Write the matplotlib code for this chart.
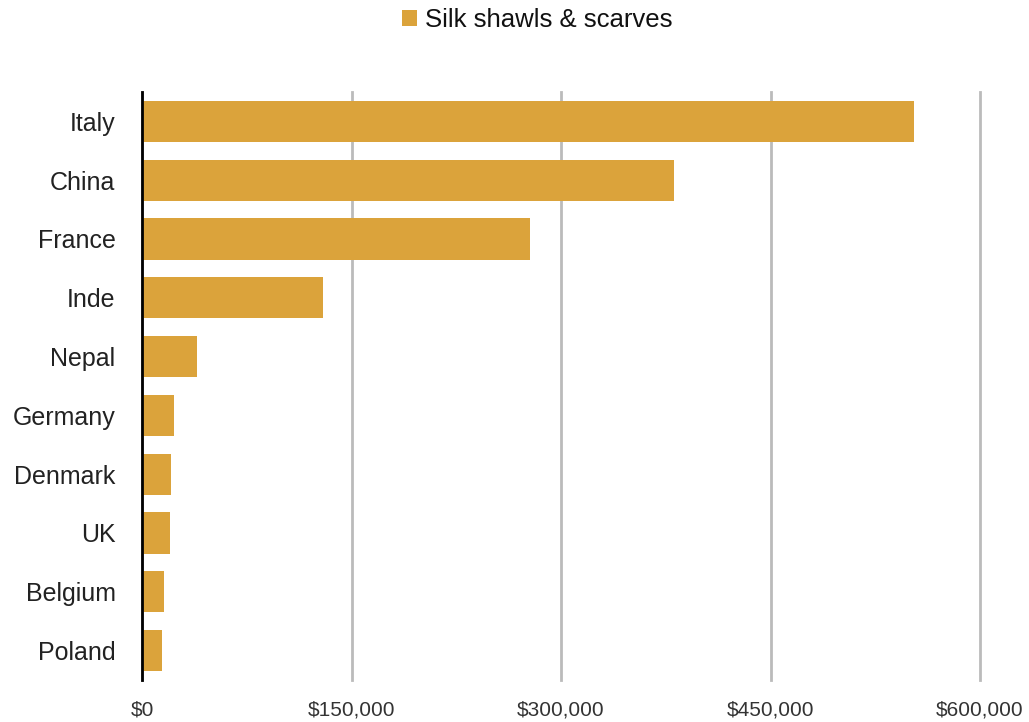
import matplotlib
matplotlib.use("Agg")
import matplotlib.pyplot as plt
from matplotlib.ticker import FuncFormatter

plt.rcParams['font.family'] = ['Liberation Sans', 'DejaVu Sans']

# 数据：从图中读取
countries = ["Italy", "China", "France", "Inde", "Nepal",
             "Germany", "Denmark", "UK", "Belgium", "Poland"]
values = [553000, 381000, 278000, 129500, 39500,
          22800, 20800, 20000, 15700, 14300]
series_name = "Silk shawls & scarves"
bar_color = "#DBA33B"

fig = plt.figure(figsize=(10.29, 7.22), dpi=100)
ax = fig.add_axes([142 / 1029, 42 / 722, 838 / 1029, 588 / 722])

ax.barh(countries, values, height=0.7, color=bar_color, label=series_name, zorder=3)
ax.set_ylim(9.5, -0.5)
ax.set_xlim(0, 600000)
ax.set_xticks([0, 150000, 300000, 450000, 600000])
ax.xaxis.set_major_formatter(FuncFormatter(lambda v, p: f"${v:,.0f}"))

# 网格与坐标轴
ax.grid(axis="x", color="#BBBBBB", lw=2, zorder=0)
for gl in ax.get_xgridlines():
    gl.set_clip_on(False)
for s in ["top", "right", "bottom"]:
    ax.spines[s].set_visible(False)
ax.spines["left"].set_linewidth(2)
ax.spines["left"].set_color("black")
ax.spines["left"].set_zorder(4)

ax.tick_params(axis="y", length=0, pad=19, labelsize=18, labelcolor="#222222")
ax.tick_params(axis="x", length=0, pad=15, labelsize=15, labelcolor="#333333")

leg = fig.legend(loc="center", bbox_to_anchor=(537 / 1029, 1 - 20 / 722),
                 frameon=False, fontsize=18.5, handlelength=0.6, handleheight=0.6,
                 handletextpad=0.3)
for t in leg.get_texts():
    t.set_color("#111111")

fig.savefig("out.png", dpi=100)
